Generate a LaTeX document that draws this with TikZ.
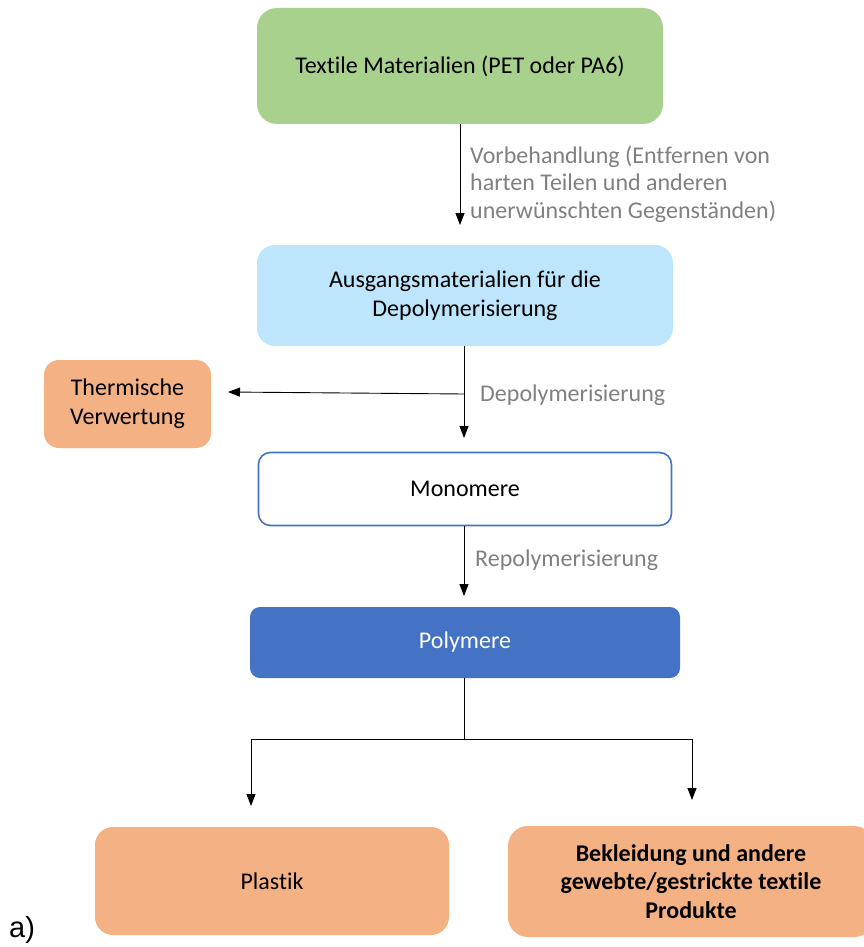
\documentclass[tikz,border=0pt]{standalone}
\usepackage{fontspec}
\setmainfont[Ligatures=NoCommon]{Carlito}
\newfontfamily\arialfont{Liberation Sans}
\usetikzlibrary{arrows.meta}
\definecolor{cgreen}{HTML}{A9D18E}
\definecolor{cblue}{HTML}{BDE5FB}
\definecolor{corange}{HTML}{F4B183}
\definecolor{cdark}{HTML}{4472C4}
\definecolor{labgray}{HTML}{808080}
\tikzset{
  box/.style={rounded corners=#1, draw=none, align=center, inner sep=0pt,
    font=\fontsize{24}{29}\selectfont},
  box/.default=16pt,
  lab/.style={text=labgray, align=left, anchor=west, inner sep=0pt,
    font=\fontsize{24}{27.5}\selectfont},
  arr/.style={draw=black, line width=0.9pt, -{Triangle[width=9pt,length=12pt]}},
  ln/.style={draw=black, line width=0.9pt}
}
\begin{document}
\begin{tikzpicture}[x=1pt,y=-1pt]
\useasboundingbox (0,0) rectangle (864,947);
\clip (0,0) rectangle (864,947);
\node[box=20pt, fill=cgreen, minimum width=406pt, minimum height=116pt] (tex) at (460,66) {Textile Materialien (PET oder PA6)};
\node[box=18pt, fill=cblue, minimum width=416pt, minimum height=101pt] (aus) at (465,295.5) {Ausgangsmaterialien für die\\Depolymerisierung};
\node[box=15pt, fill=corange, minimum width=167pt, minimum height=88pt] (therm) at (127.5,404) {Thermische\\Verwertung};
\node[box=12pt, fill=white, draw=cdark, line width=1.6pt, minimum width=413pt, minimum height=73pt] (mono) at (465,489) {Monomere};
\node[box=10pt, fill=cdark, text=white, minimum width=430pt, minimum height=71pt] (poly) at (465,642.5) {Polymere};
\node[box=18pt, fill=corange, minimum width=354pt, minimum height=108pt] (plast) at (272,881) {Plastik};
\node[box=20pt, fill=corange, minimum width=366pt, minimum height=111pt, font=\fontsize{24}{28.5}\selectfont\bfseries] (bekl) at (691,881.5) {Bekleidung und andere\\gewebte/gestrickte textile\\Produkte};

\node[lab] (lvor) at (470,184) {Vorbehandlung (Entfernen von\\harten Teilen und anderen\\unerwünschten Gegenständen)};
\node[lab] (ldep) at (480,395) {Depolymerisierung};
\node[lab] (lrep) at (475,560) {Repolymerisierung};

\node[anchor=base west, inner sep=0pt, font=\arialfont\fontsize{29}{29}\selectfont] (a) at (9,937) {a)};

\coordinate (t1) at (460,225);
\coordinate (d0) at (464,346);
\coordinate (d1) at (464,438);
\coordinate (dsplit) at (464,394);
\coordinate (th) at (228,392);
\coordinate (r1) at (464,596);
\coordinate (pmid) at (464,739);
\coordinate (pl) at (251,739);
\coordinate (pr) at (692,739);
\coordinate (pl2) at (251,806);
\coordinate (pr2) at (692,800);

\draw[arr] (tex.south) -- (t1);
\draw[arr] (aus.south -| d0) -- (d1);
\draw[arr] (dsplit) -- (th);
\draw[arr] (mono.south -| d0) -- (r1);
\draw[ln] (poly.south -| d0) -- (pmid);
\draw[ln] (pl) -- (pr);
\draw[arr] (pl) -- (pl2);
\draw[arr] (pr) -- (pr2);
\end{tikzpicture}
\end{document}
